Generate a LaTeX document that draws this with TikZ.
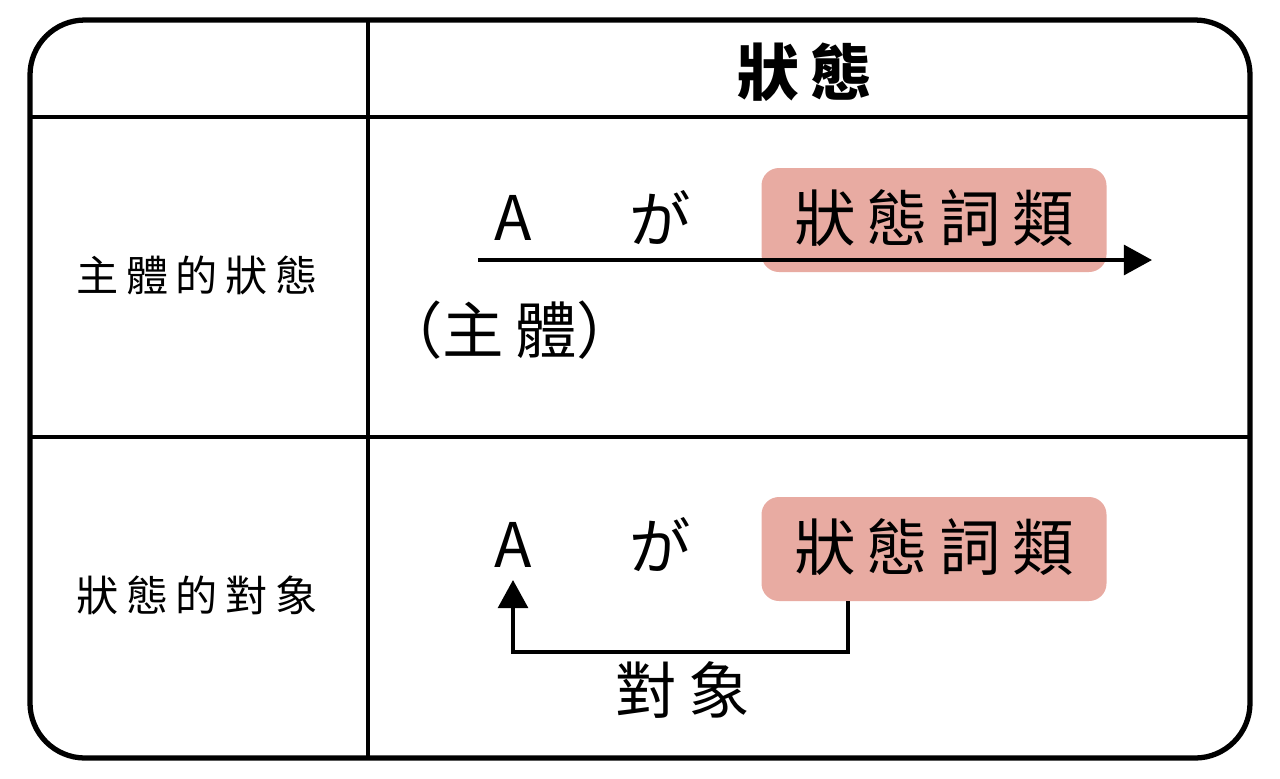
\documentclass[tikz,border=0pt]{standalone}
\usepackage{fontspec}
\newfontfamily\cjk{Noto Sans CJK TC}
\usetikzlibrary{arrows.meta}
\definecolor{boxpink}{HTML}{E8ABA2}
\newcommand\gapk{\kern0.18em}
\begin{document}
\begin{tikzpicture}[x=0.02cm,y=-0.02cm,
  big/.style={font=\cjk\fontsize{35}{35}\selectfont, inner sep=0pt},
  side/.style={font=\cjk\fontsize{24}{24}\selectfont, inner sep=0pt},
  wordbox/.style={fill=boxpink, rounded corners=0.35cm, minimum width=345*0.02cm, minimum height=104*0.02cm}]
  \useasboundingbox (0,0) rectangle (1280,778);
  \draw[line width=3pt, rounded corners=1.1cm] (30,20) rectangle (1250,758);
  \draw[line width=2pt] (368,20) -- (368,758);
  \draw[line width=2pt] (30,117) -- (1250,117);
  \draw[line width=2pt] (30,437) -- (1250,437);

  \node[big, font=\cjk\bfseries\fontsize{35}{35}\selectfont] (head) at (805,72) {狀\gapk 態};
  \node[side] (rowa) at (197,275) {主\gapk 體\gapk 的\gapk 狀\gapk 態};
  \node[side] (rowb) at (197,595) {狀\gapk 態\gapk 的\gapk 對\gapk 象};

  % row 1
  \node[wordbox] (boxa) at (934,220) {};
  \node[big] (wa) at (934,218) {狀\gapk 態\gapk 詞\gapk 類};
  \node[big] (aa) at (513,218) {A};
  \node[big] (ga) at (660,218) {が};
  \coordinate (sa) at (478,260);
  \coordinate (ea) at (1152,260);
  \draw[line width=2pt, -{Triangle[length=16pt,width=17pt]}] (sa) -- (ea);
  \node[big] (subj) at (510,330) {（主\gapk 體）};

  % row 2
  \node[wordbox] (boxb) at (934,549) {};
  \node[big] (wb) at (934,547) {狀\gapk 態\gapk 詞\gapk 類};
  \node[big] (ab) at (513,545) {A};
  \node[big] (gb) at (660,545) {が};
  \coordinate (ob) at (848,601);
  \coordinate (tb) at (513,580);
  \draw[line width=2pt, -{Triangle[length=16pt,width=17pt]}] (ob) |- (513,652) -- (tb);
  \node[big] (obj) at (683,690) {對\gapk 象};
\end{tikzpicture}
\end{document}
